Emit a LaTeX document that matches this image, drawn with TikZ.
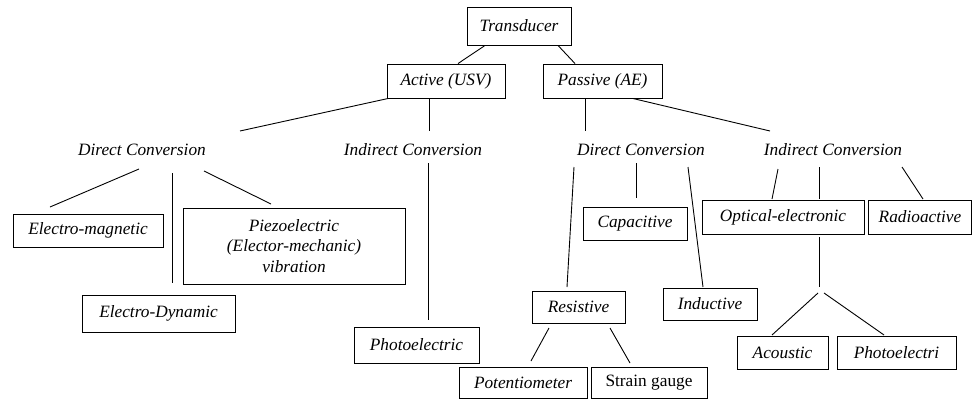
\documentclass[tikz,border=0pt]{standalone}
\usepackage{fontspec}
\setmainfont{Liberation Serif}
\newfontfamily\tnr{Liberation Serif}
\begin{document}
\begin{tikzpicture}[x=1pt,y=-1pt,line width=0.9pt,
  every node/.style={font=\tnr\fontsize{17.3}{20.5}\selectfont\itshape, inner sep=0pt},
  box/.style={draw, align=center},
  lbl/.style={}]
\useasboundingbox (0,0) rectangle (972,399);
% boxes
\node[box, minimum width=104, minimum height=38] (T) at (519,26) {Transducer};
\node[box, minimum width=118, minimum height=34] (A) at (446,81) {Active (USV)};
\node[box, minimum width=119, minimum height=34] (P) at (602.5,81) {Passive (AE)};
\node[lbl] (DCL) at (142,150) {Direct Conversion};
\node[lbl] (ICL) at (413,150) {Indirect Conversion};
\node[lbl] (DCP) at (641,150) {Direct Conversion};
\node[lbl] (ICP) at (833,150) {Indirect Conversion};
\node[box, minimum width=150, minimum height=33] (EM) at (88,230.5) {Electro-magnetic};
\node[box, minimum width=222, minimum height=76] (PZ) at (294,246) {Piezoelectric\\(Elector-mechanic)\\vibration};
\node[box, minimum width=153, minimum height=37] (ED) at (158.5,313.5) {Electro-Dynamic};
\node[box, minimum width=125, minimum height=36] (PH1) at (416.5,345) {Photoelectric};
\node[box, minimum width=104, minimum height=33] (CAP) at (635,223.5) {Capacitive};
\node[box, minimum width=93, minimum height=32] (RES) at (578.5,307) {Resistive};
\node[box, minimum width=94, minimum height=32] (IND) at (710,304) {Inductive};
\node[box, minimum width=128, minimum height=31] (POT) at (523,383) {Potentiometer};
\node[box, minimum width=116, minimum height=31, font=\tnr\fontsize{17.3}{20.5}\selectfont\upshape] (SG) at (649,383) {Strain gauge};
\node[box, minimum width=162, minimum height=34] (OPT) at (783,217) {Optical-electronic};
\node[box, minimum width=103, minimum height=34] (RAD) at (920,217) {Radioactive};
\node[box, minimum width=91, minimum height=33] (AC) at (782.5,352.5) {Acoustic};
\node[box, minimum width=119, minimum height=33] (PH2) at (896.5,352.5) {Photoelectri};
% free connector ends
\coordinate (c1) at (388,98.5);  \coordinate (c2) at (240,131);
\coordinate (c3) at (429,98.5);  \coordinate (c4) at (429,131);
\coordinate (c5) at (585,98.5);  \coordinate (c6) at (585,131);
\coordinate (c7) at (633,98.5);  \coordinate (c8) at (770,131);
\coordinate (d1) at (139,169);   \coordinate (d2) at (50,207);
\coordinate (d3) at (172,173);   \coordinate (d4) at (172,283);
\coordinate (d5) at (204,171);   \coordinate (d6) at (271,204);
\coordinate (e1) at (428,163);   \coordinate (e2) at (428,320);
\coordinate (f1) at (574,167);   \coordinate (f2) at (567,287);
\coordinate (f3) at (636,163);   \coordinate (f4) at (636,198);
\coordinate (f5) at (688,167);   \coordinate (f6) at (703,287);
\coordinate (g1) at (549,328);   \coordinate (g2) at (531,361);
\coordinate (g3) at (610,328);   \coordinate (g4) at (630,363);
\coordinate (h1) at (778,169);   \coordinate (h2) at (772,199);
\coordinate (h3) at (819,167);   \coordinate (h4) at (819,199);
\coordinate (h5) at (902,167);   \coordinate (h6) at (923,199);
\coordinate (k1) at (819,237);   \coordinate (k2) at (819,287);
\coordinate (k3) at (818,293);   \coordinate (k4) at (772,335);
\coordinate (k5) at (824,293);   \coordinate (k6) at (884,335);
% connectors
\draw ([xshift=-34pt]T.south) -- ([xshift=12pt]A.north);
\draw ([xshift=39pt]T.south) -- ([xshift=-27.5pt]P.north);
\draw (c1) -- (c2); \draw (c3) -- (c4); \draw (c5) -- (c6); \draw (c7) -- (c8);
\draw (d1) -- (d2); \draw (d3) -- (d4); \draw (d5) -- (d6);
\draw (e1) -- (e2);
\draw (f1) -- (f2); \draw (f3) -- (f4); \draw (f5) -- (f6);
\draw (g1) -- (g2); \draw (g3) -- (g4);
\draw (h1) -- (h2); \draw (h3) -- (h4); \draw (h5) -- (h6);
\draw (k1) -- (k2); \draw (k3) -- (k4); \draw (k5) -- (k6);
\end{tikzpicture}
\end{document}
